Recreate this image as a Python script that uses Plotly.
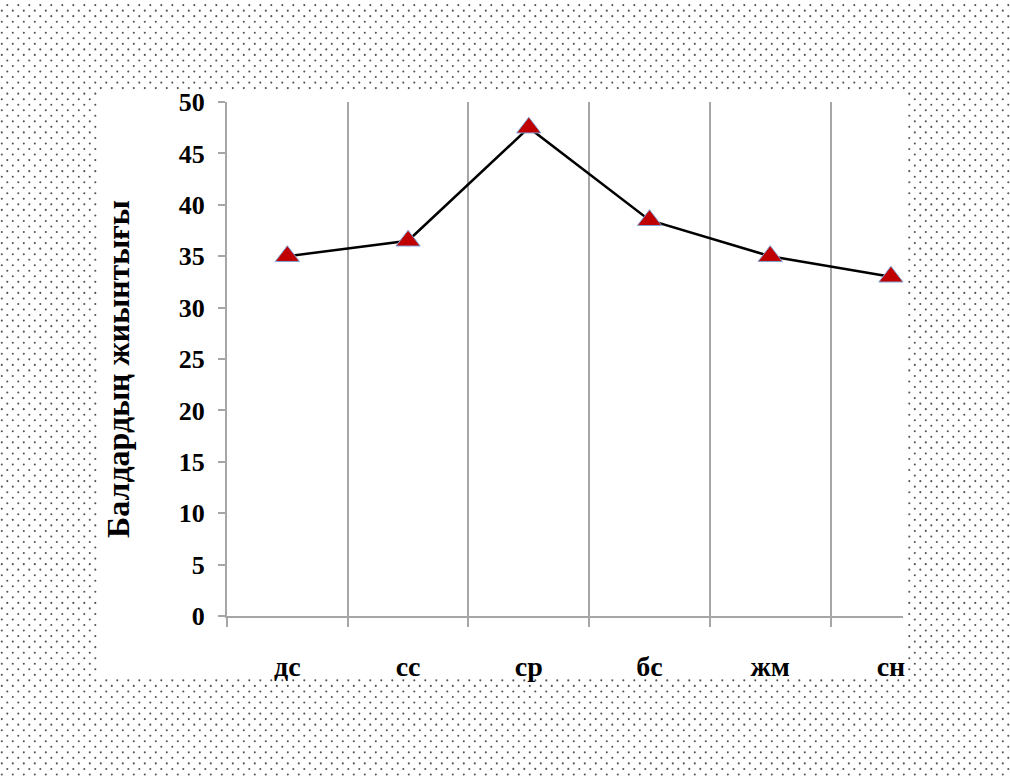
import base64
import plotly.graph_objects as go

categories = ["дс", "сс", "ср", "бс", "жм", "сн"]
values = [35, 36.5, 47.5, 38.5, 35, 33]
y_ticks = [0, 5, 10, 15, 20, 25, 30, 35, 40, 45, 50]
y_title = "Балдардың жиынтығы"

W, H = 1010, 776
ML, MR, MT, MB = 227, 107, 102, 160
PW, PH = W - ML - MR, H - MT - MB

# dotted slide background (staggered dots) around a white window
WX0, WX1, WY0, WY1 = 99, 904, 90, 680
dots = []
r = 0
while True:
    y = 5.1 + r * 5.535
    if y > H + 2:
        break
    x = 7.3 if r % 2 == 0 else 1.8
    while x < W + 2:
        if not (WX0 <= x <= WX1 and WY0 <= y <= WY1):
            dots.append(f"M{x - 1.05:.2f} {y:.2f}a1.05 1.05 0 1 0 2.1 0a1.05 1.05 0 1 0 -2.1 0")
        x += 11
    r += 1
svg = (f'<svg xmlns="http://www.w3.org/2000/svg" width="{W}" height="{H}" '
       f'viewBox="0 0 {W} {H}" preserveAspectRatio="none">'
       f'<path fill="#555" d="{"".join(dots)}"/></svg>')
src = "data:image/svg+xml;base64," + base64.b64encode(svg.encode()).decode()

fig = go.Figure()
fig.add_trace(go.Scatter(
    x=categories, y=values, mode="lines+markers",
    line=dict(color="black", width=2.5),
    marker=dict(symbol="triangle-up", size=21, color="#C00000",
                line=dict(color="#7FA3D6", width=1)),
    showlegend=False, cliponaxis=False,
))

serif = "Liberation Serif, Times New Roman, serif"
fig.update_layout(
    width=W, height=H, autosize=False,
    margin=dict(l=ML, r=MR, t=MT, b=MB, pad=0),
    paper_bgcolor="white", plot_bgcolor="white",
    images=[dict(source=src, xref="paper", yref="paper",
                 x=-ML / PW, y=1 + MT / PH, sizex=W / PW, sizey=H / PH,
                 xanchor="left", yanchor="top", sizing="stretch", layer="above")],
    xaxis=dict(
        type="category", range=[-0.5, 5.1], tickson="boundaries",
        showgrid=True, gridcolor="#A6A6A6", gridwidth=1.5,
        showline=True, linecolor="#A6A6A6", linewidth=2,
        ticks="outside", ticklen=9, tickwidth=1.5, tickcolor="#A6A6A6",
        tickfont=dict(family=serif, size=28, color="black", weight="bold"),
        ticklabelstandoff=24, zeroline=False,
    ),
    yaxis=dict(
        range=[0, 50], tickvals=y_ticks, showgrid=False, zeroline=False,
        showline=True, linecolor="#A6A6A6", linewidth=2,
        ticks="outside", ticklen=7, tickwidth=1.5, tickcolor="#A6A6A6",
        tickfont=dict(family=serif, size=26, color="black", weight="bold"),
        ticklabelstandoff=8,
    ),
    annotations=[dict(text=y_title, textangle=-90, showarrow=False,
                      xref="paper", yref="paper",
                      x=(118 - ML) / PW, y=1 - (369 - MT) / PH,
                      xanchor="center", yanchor="middle",
                      font=dict(family=serif, size=32, color="black", weight="bold"))],
)

fig.write_html("out.html", config={"displayModeBar": False, "responsive": False},
               post_script="document.body.style.margin='0';document.body.style.overflow='hidden';")
